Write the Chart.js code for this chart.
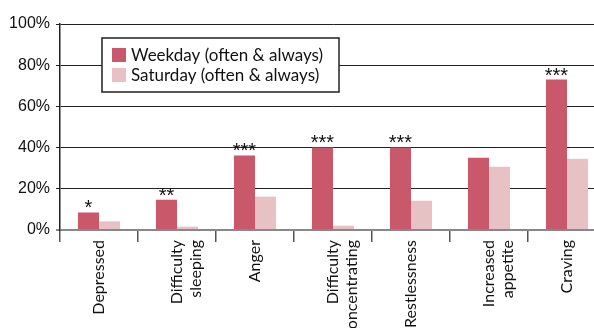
<!DOCTYPE html>
<html>
<head>
<meta charset="utf-8">
<script src="https://cdn.jsdelivr.net/npm/chart.js@4.4.1/dist/chart.umd.min.js"></script>
<style>
  html, body { margin: 0; padding: 0; background: #fff; overflow: hidden; }
  #wrap { position: relative; width: 606px; height: 328px; }
</style>
</head>
<body>
<div id="wrap"><canvas id="chart"></canvas></div>
<script>
var categories = [
  "Depressed",
  ["Difficulty", "sleeping"],
  "Anger",
  ["Difficulty", "concentrating"],
  "Restlessness",
  ["Increased", "appetite"],
  "Craving"
];
var weekday = [8.5, 14.7, 36.2, 40.1, 40.1, 35.1, 73.0];
var saturday = [4.2, 1.6, 16.2, 2.1, 14.2, 30.7, 34.6];
var significance = ["*", "**", "***", "***", "***", "", "***"];
var yTicks = [0, 20, 40, 60, 80, 100];

var seriesNames = ["Weekday (often & always)", "Saturday (often & always)"];
var weekdayColor = "#c9596a";
var saturdayColor = "#e8c1c4";

// stars over the weekday bars
var starsPlugin = {
  id: "stars",
  afterDatasetsDraw: function (chart) {
    var ctx = chart.ctx;
    var meta = chart.getDatasetMeta(0);
    ctx.save();
    ctx.font = "20px 'Liberation Sans', Arial, sans-serif";
    ctx.fillStyle = "#111";
    ctx.textAlign = "center";
    ctx.textBaseline = "alphabetic";
    meta.data.forEach(function (bar, i) {
      var s = significance[i];
      if (!s) return;
      var m = ctx.measureText(s);
      var y = bar.y - 4 - m.actualBoundingBoxDescent;
      ctx.fillText(s, bar.x, y);
    });
    ctx.restore();
  }
};

// boxed legend inside the plot
var boxLegend = {
  id: "boxLegend",
  afterDatasetsDraw: function (chart) {
    var ctx = chart.ctx;
    var x = 102, y = 38, w = 237, h = 54;
    ctx.save();
    ctx.fillStyle = "#fff";
    ctx.fillRect(x, y, w, h);
    ctx.strokeStyle = "#222";
    ctx.lineWidth = 1.5;
    ctx.strokeRect(x, y, w, h);
    ctx.font = "17px Lato, sans-serif";
    ctx.textBaseline = "alphabetic";
    ctx.textAlign = "left";
    chart.data.datasets.forEach(function (ds, i) {
      var sy = 48 + i * 20;
      ctx.fillStyle = ds.backgroundColor;
      ctx.fillRect(112, sy, 14, 14);
      ctx.fillStyle = "#111";
      ctx.fillText(ds.label, 131, sy + 13);
    });
    ctx.restore();
  }
};

new Chart(document.getElementById("chart"), {
  type: "bar",
  data: {
    labels: categories,
    datasets: [
      {
        label: seriesNames[0],
        data: weekday,
        backgroundColor: weekdayColor,
        categoryPercentage: 0.54,
        barPercentage: 1.0
      },
      {
        label: seriesNames[1],
        data: saturday,
        backgroundColor: saturdayColor,
        categoryPercentage: 0.54,
        barPercentage: 1.0
      }
    ]
  },
  options: {
    responsive: true,
    maintainAspectRatio: false,
    animation: false,
    layout: { padding: { top: 24, right: 0, left: 0, bottom: 0 } },
    plugins: {
      legend: { display: false },
      tooltip: { enabled: false }
    },
    scales: {
      x: {
        grid: {
          offset: true,
          drawOnChartArea: false,
          drawTicks: true,
          tickLength: 12,
          color: "#555",
          lineWidth: 1.5
        },
        border: { display: false },
        ticks: {
          autoSkip: false,
          maxRotation: 90,
          minRotation: 90,
          padding: -2,
          color: "#111",
          font: { family: "Lato, sans-serif", size: 16, lineHeight: 1.2 }
        },
        afterFit: function (scale) { scale.height = 98; }
      },
      y: {
        min: 0,
        max: 100,
        afterBuildTicks: function (scale) {
          scale.ticks = yTicks.map(function (v) { return { value: v }; });
        },
        grid: {
          tickLength: 4,
          color: function (c) { return c.tick && c.tick.value === 0 ? "#888" : "#222"; },
          lineWidth: function (c) { return c.tick && c.tick.value === 0 ? 2 : 1; }
        },
        border: { display: true, color: "#222", width: 1.5 },
        ticks: {
          padding: 6,
          color: "#111",
          font: { family: "'Liberation Sans', Arial, sans-serif", size: 16 },
          callback: function (v) { return v + "%"; }
        },
        afterFit: function (scale) { scale.width = 60; }
      }
    }
  },
  plugins: [starsPlugin, boxLegend]
});
</script>
</body>
</html>
